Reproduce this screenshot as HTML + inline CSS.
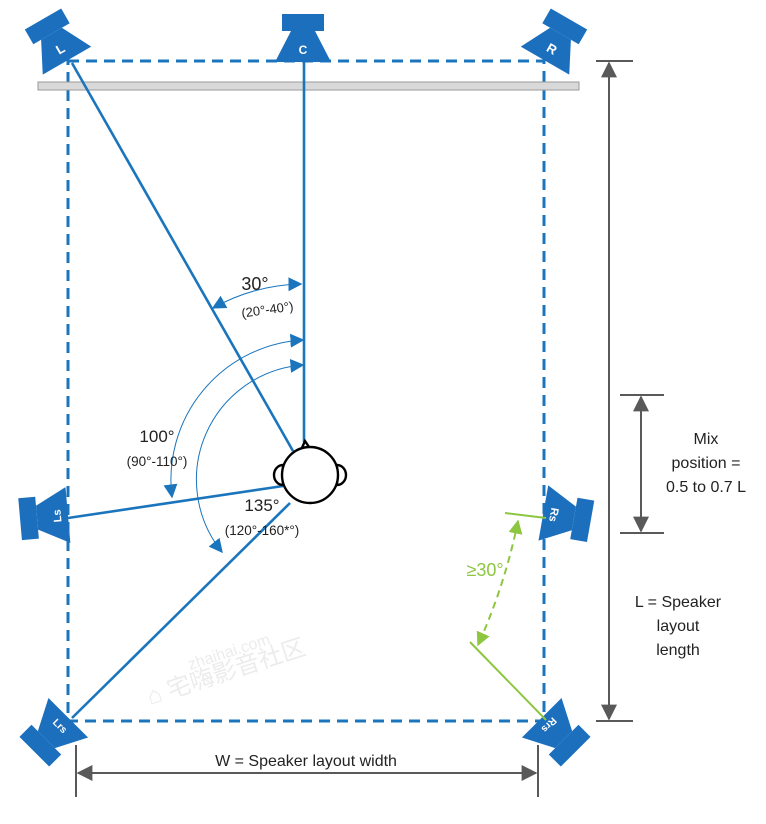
<!DOCTYPE html>
<html><head><meta charset="utf-8"><style>
html,body{margin:0;padding:0;background:#fff;}
svg{display:block;font-family:"Liberation Sans","Noto Sans CJK SC",sans-serif;}
</style></head><body>
<svg width="766" height="824" viewBox="0 0 766 824" xmlns="http://www.w3.org/2000/svg">
<defs>
<marker id="ab" viewBox="0 0 10 10" refX="9" refY="5" markerWidth="14" markerHeight="14" markerUnits="userSpaceOnUse" orient="auto-start-reverse"><path d="M0,0 L10,5 L0,10 z" fill="#1b75bc"/></marker>
<marker id="ag" viewBox="0 0 10 10" refX="9" refY="5" markerWidth="14" markerHeight="14" markerUnits="userSpaceOnUse" orient="auto-start-reverse"><path d="M0,0 L10,5 L0,10 z" fill="#8dc63f"/></marker>
<marker id="ak" viewBox="0 0 10 10" refX="9" refY="5" markerWidth="16" markerHeight="16" markerUnits="userSpaceOnUse" orient="auto-start-reverse"><path d="M0,0 L10,5 L0,10 z" fill="#595959"/></marker>
<g id="spk">
<rect x="-21" y="-25" width="42" height="17" fill="#1b6fbd"/>
<polygon points="-12,-8 12,-8 28,23 -28,23" fill="#1b6fbd"/>
</g>
</defs>

<!-- watermark -->
<text x="150" y="705" font-size="24" fill="#ececec" transform="rotate(-18 150 705)">⌂ 宅嗨影音社区</text>
<text x="190" y="670" font-size="16" fill="#ececec" transform="rotate(-18 190 670)">zhaihai.com</text>

<rect x="68" y="61" width="476" height="660" fill="none" stroke="#1b75bc" stroke-width="3" stroke-dasharray="11,7"/>
<rect x="38" y="82" width="541" height="8" fill="#d9d9d9" stroke="#9a9a9a" stroke-width="1"/>

<g stroke="#1b75bc" stroke-width="2.6" fill="none">
<line x1="304" y1="60" x2="304" y2="442"/>
<line x1="72" y1="63" x2="293" y2="451"/>
<line x1="68" y1="518" x2="283" y2="486"/>
<line x1="72" y1="718" x2="290" y2="503"/>
</g>

<g stroke="#1b75bc" stroke-width="1" fill="none">
<path d="M301,284 A190 190 0 0 0 213,308" marker-start="url(#ab)" marker-end="url(#ab)"/>
<path d="M172,497 A140 140 0 0 1 303,340" marker-start="url(#ab)" marker-end="url(#ab)"/>
<path d="M222,552 A115 115 0 0 1 303,365" marker-start="url(#ab)" marker-end="url(#ab)"/>
</g>

<g stroke="#000" stroke-width="2.4" fill="#fff">
<path d="M283,465 A9 10 0 0 0 283,485 Z"/>
<path d="M337,465 A9 10 0 0 1 337,485 Z"/>
<polygon points="305,441 301,450 311,450"/>
<circle cx="310" cy="475" r="28"/>
</g>

<g>
<use href="#spk" transform="translate(303,39)"/>
<text x="303" y="54" font-size="12" font-weight="bold" fill="#fff" text-anchor="middle">C</text>
<g transform="translate(55.5,40.7) rotate(-30)"><use href="#spk"/><text x="0" y="14" font-size="13" font-weight="bold" fill="#fff" text-anchor="middle">L</text></g>
<g transform="translate(556.5,40.7) rotate(30)"><use href="#spk"/><text x="0" y="14" font-size="13" font-weight="bold" fill="#fff" text-anchor="middle">R</text></g>
<g transform="translate(45,517) rotate(-95)"><use href="#spk"/><text x="0" y="16" font-size="11" font-weight="bold" fill="#fff" text-anchor="middle">Ls</text></g>
<g transform="translate(566,517) rotate(100)"><use href="#spk"/><text x="0" y="16" font-size="11" font-weight="bold" fill="#fff" text-anchor="middle">Rs</text></g>
<g transform="translate(52,734) rotate(-135)"><use href="#spk"/><text x="0" y="16" font-size="10" font-weight="bold" fill="#fff" text-anchor="middle" transform="rotate(180 0 12)">Lrs</text></g>
<g transform="translate(558,734) rotate(135)"><use href="#spk"/><text x="0" y="16" font-size="10" font-weight="bold" fill="#fff" text-anchor="middle">Rrs</text></g>
</g>

<g fill="#222">
<text x="255" y="290" font-size="18" text-anchor="middle">30°</text>
<text x="268" y="314" font-size="13" text-anchor="middle" transform="rotate(-8 268 314)">(20°-40°)</text>
<text x="157" y="442" font-size="17" text-anchor="middle">100°</text>
<text x="157" y="466" font-size="13.5" text-anchor="middle">(90°-110°)</text>
<text x="262" y="511" font-size="17" text-anchor="middle">135°</text>
<text x="262" y="535" font-size="13.5" text-anchor="middle">(120°-160*°)</text>
</g>

<g stroke="#8dc63f" stroke-width="2" fill="none">
<line x1="505" y1="513" x2="546" y2="518"/>
<line x1="470" y1="642" x2="546" y2="720"/>
<path d="M518,521 Q505,585 478,645" stroke-dasharray="7,5" marker-start="url(#ag)" marker-end="url(#ag)"/>
</g>
<text x="485" y="576" font-size="18" fill="#8dc63f" text-anchor="middle">≥30°</text>

<g stroke="#595959" stroke-width="2" fill="none">
<line x1="596" y1="61" x2="633" y2="61"/>
<line x1="596" y1="721" x2="633" y2="721"/>
<line x1="609" y1="63" x2="609" y2="719" marker-start="url(#ak)" marker-end="url(#ak)"/>
<line x1="620" y1="395" x2="664" y2="395"/>
<line x1="620" y1="533" x2="664" y2="533"/>
<line x1="641" y1="397" x2="641" y2="531" marker-start="url(#ak)" marker-end="url(#ak)"/>
<line x1="76" y1="745" x2="76" y2="797"/>
<line x1="538" y1="745" x2="538" y2="797"/>
<line x1="78" y1="773" x2="536" y2="773" marker-start="url(#ak)" marker-end="url(#ak)"/>
</g>
<g fill="#222" font-size="16" text-anchor="middle">
<text x="706" y="444">Mix</text>
<text x="706" y="468">position =</text>
<text x="706" y="492">0.5 to 0.7 L</text>
<text x="678" y="607">L = Speaker</text>
<text x="678" y="631">layout</text>
<text x="678" y="655">length</text>
<text x="306" y="766">W = Speaker layout width</text>
</g>
</svg>
</body></html>
